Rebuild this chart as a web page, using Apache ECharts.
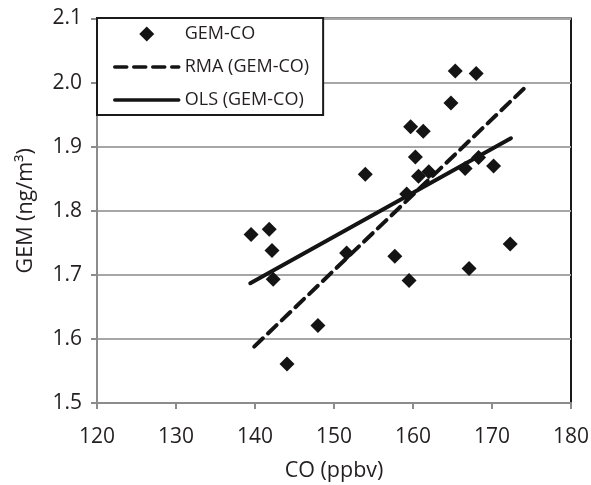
<!DOCTYPE html>
<html>
<head>
<meta charset="utf-8">
<script src="https://cdn.jsdelivr.net/npm/echarts@6/dist/echarts.min.js"></script>
<style>
html,body{margin:0;padding:0;background:#fff;}
#c{width:591px;height:485px;}
</style>
</head>
<body>
<div id="c"></div>
<script>
// Observed GEM vs CO points
const coValues = [139.5, 141.8, 142.15, 142.3, 144.05, 147.97, 151.6, 153.96, 157.7, 159.5, 159.2, 159.7, 160.3, 160.7, 161.3, 162.0, 164.8, 165.35, 166.6, 167.1, 168.0, 168.3, 170.2, 172.3];
const gemValues = [1.763, 1.771, 1.738, 1.693, 1.561, 1.621, 1.734, 1.857, 1.729, 1.691, 1.826, 1.931, 1.884, 1.854, 1.924, 1.861, 1.968, 2.018, 1.866, 1.710, 2.014, 1.883, 1.870, 1.748];
// Regression line endpoints
const rmaX = [139.9, 174.5];
const rmaY = [1.588, 1.996];
const olsX = [139.4, 172.4];
const olsY = [1.687, 1.913];
// Axis ticks
const xTicks = [120, 130, 140, 150, 160, 170, 180];
const yTicks = [1.5, 1.6, 1.7, 1.8, 1.9, 2.0, 2.1];
const seriesNames = ['GEM-CO', 'RMA (GEM-CO)', 'OLS (GEM-CO)'];

const zip = (a, b) => a.map((v, i) => [v, b[i]]);
const FONT = '"Open Sans", sans-serif';
const TXT = '#231f20';
const INK = '#141414';

const chart = echarts.init(document.getElementById('c'), null, {renderer: 'canvas'});
chart.setOption({
  animation: false,
  backgroundColor: '#ffffff',
  textStyle: {fontFamily: FONT, color: TXT},
  grid: {
    left: 97, right: 20, top: 18.5, bottom: 82,
    outerBoundsMode: 'none', containLabel: false,
    show: true, borderColor: '#1a1a1a', borderWidth: 2, backgroundColor: 'transparent'
  },
  legend: {
    left: 97, top: 18,
    orient: 'vertical',
    backgroundColor: '#ffffff',
    borderColor: '#1a1a1a', borderWidth: 2, borderRadius: 0,
    padding: [7, 14, 6, 16],
    itemWidth: 64, itemHeight: 15, itemGap: 15,
    symbolKeepAspect: true,
    lineStyle: {width: 3.5},
    textStyle: {fontFamily: FONT, fontSize: 18, color: TXT, padding: [0, 0, 0, 1]},
    data: [
      {name: seriesNames[0], icon: 'path://M0,-1L1,0L0,1L-1,0Z', itemStyle: {color: INK, opacity: 1}},
      {name: seriesNames[1], itemStyle: {color: 'transparent', borderWidth: 0, opacity: 0}},
      {name: seriesNames[2], itemStyle: {color: 'transparent', borderWidth: 0, opacity: 0}}
    ]
  },
  xAxis: {
    type: 'value', min: xTicks[0], max: xTicks[xTicks.length - 1], interval: 10,
    name: 'CO (ppbv)', nameLocation: 'middle', nameGap: 57,
    nameTextStyle: {fontFamily: FONT, fontSize: 21.5, color: TXT},
    axisLine: {show: true, onZero: false, lineStyle: {color: '#8c8c8c', width: 2}},
    axisTick: {show: true, length: 6, inside: false, lineStyle: {color: '#8c8c8c', width: 2}},
    axisLabel: {fontFamily: FONT, fontSize: 21, color: TXT, margin: 24},
    splitLine: {show: false}
  },
  yAxis: {
    type: 'value', min: yTicks[0], max: yTicks[yTicks.length - 1], interval: 0.1,
    name: 'GEM (ng/m³)', nameLocation: 'middle', nameGap: 60,
    nameTextStyle: {fontFamily: FONT, fontSize: 21.5, color: TXT},
    axisLine: {show: true, onZero: false, lineStyle: {color: '#8c8c8c', width: 2}},
    axisTick: {show: true, length: 6, inside: false, lineStyle: {color: '#8c8c8c', width: 2}},
    axisLabel: {fontFamily: FONT, fontSize: 21, color: TXT, margin: 15, formatter: v => v.toFixed(1)},
    splitLine: {show: true, lineStyle: {color: '#a6a6a6', width: 2}}
  },
  series: [
    {
      name: seriesNames[0], type: 'scatter', symbol: 'diamond', symbolSize: 15,
      itemStyle: {color: INK, opacity: 1},
      data: zip(coValues, gemValues), z: 3
    },
    {
      name: seriesNames[1], type: 'line', symbol: 'none', showSymbol: false,
      lineStyle: {color: INK, width: 4, type: [12, 7], cap: 'round'},
      itemStyle: {color: INK},
      data: zip(rmaX, rmaY), z: 4
    },
    {
      name: seriesNames[2], type: 'line', symbol: 'none', showSymbol: false,
      lineStyle: {color: INK, width: 4, cap: 'round'},
      itemStyle: {color: INK},
      data: zip(olsX, olsY), z: 4
    }
  ]
});
</script>
</body>
</html>
